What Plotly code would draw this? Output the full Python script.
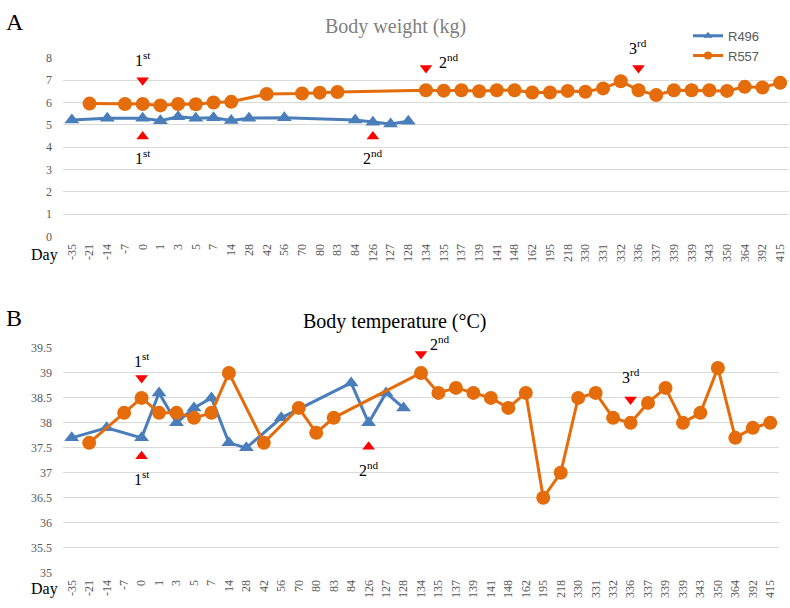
import plotly.graph_objects as go

days = ["-35", "-21", "-14", "-7", "0", "1", "3", "5", "7", "14", "28", "42", "56", "70",
        "80", "83", "84", "126", "127", "128", "134", "135", "137", "139", "141", "148",
        "162", "195", "218", "330", "331", "332", "336", "337", "339", "339", "343", "350",
        "364", "392", "415"]

r496_idx = [0, 2, 4, 5, 6, 7, 8, 9, 10, 12, 16, 17, 18, 19]
r557_idx = [1, 3, 4, 5, 6, 7, 8, 9, 11, 13, 14, 15] + list(range(20, 41))

r496_weight = [5.22, 5.3, 5.3, 5.18, 5.36, 5.3, 5.32, 5.19, 5.3, 5.32, 5.22, 5.12, 5.04, 5.16]
r557_weight = [5.95, 5.93, 5.93, 5.87, 5.93, 5.92, 6.0, 6.03, 6.38, 6.4, 6.44, 6.47,
               6.55, 6.53, 6.55, 6.5, 6.55, 6.55, 6.45, 6.45, 6.52, 6.48, 6.63, 6.95,
               6.55, 6.33, 6.55, 6.55, 6.55, 6.52, 6.7, 6.67, 6.88]

r496_temp = [37.7, 37.9, 37.7, 38.6, 38.0, 38.3, 38.5, 37.6, 37.5, 38.1, 38.8, 38.0, 38.6, 38.3]
r557_temp = [37.6, 38.2, 38.5, 38.2, 38.2, 38.1, 38.2, 39.0, 37.6, 38.3, 37.8, 38.1,
             39.0, 38.6, 38.7, 38.6, 38.5, 38.3, 38.6, 36.5, 37.0, 38.5, 38.6, 38.1,
             38.0, 38.4, 38.7, 38.0, 38.2, 39.1, 37.7, 37.9, 38.0]

# dose markers: (category index, y value)
w_down = [(4, 7.0), (20, 7.54), (32, 7.54)]
w_up = [(4, 4.48), (17, 4.48)]
w_labels = [(4, 7.95, "1<sup>st</sup>"), (4, 3.56, "1<sup>st</sup>"), (17, 3.56, "2<sup>nd</sup>"),
            (21.3, 7.85, "2<sup>nd</sup>"), (32, 8.5, "3<sup>rd</sup>")]
t_down = [(4, 38.9), (20, 39.38), (32, 38.47)]
t_up = [(4, 37.33), (17, 37.52)]
t_labels = [(4, 39.25, "1<sup>st</sup>"), (4, 36.9, "1<sup>st</sup>"), (17, 37.07, "2<sup>nd</sup>"),
            (21.1, 39.6, "2<sup>nd</sup>"), (32, 38.93, "3<sup>rd</sup>")]

BLUE = "#4A7EBB"
ORANGE = "#E46C0A"
GRID = "#D9D9D9"
TICK = "#595959"
SERIF = "Liberation Serif"

W, H = 790, 608

# panel geometry (pixels)
X1 = (63, 789)
Y1 = (52, 235)
Y1R = (0, 8)
X2 = (63, 779)
Y2 = (349, 579)
Y2R = (35, 39.5)


def to_paper(v, ypx, yr):
    top, bot = ypx
    lo, hi = yr
    px = bot - (v - lo) / (hi - lo) * (bot - top)
    return 1 - px / H


fig = go.Figure()

# weight panel
fig.add_trace(go.Scatter(x=r496_idx, y=r496_weight, mode="lines+markers", name="R496",
                         line=dict(color=BLUE, width=3), showlegend=False,
                         marker=dict(symbol="triangle-up", size=13, color=BLUE),
                         xaxis="x", yaxis="y"))
fig.add_trace(go.Scatter(x=r557_idx, y=r557_weight, mode="lines+markers", name="R557",
                         line=dict(color=ORANGE, width=3), showlegend=False,
                         marker=dict(symbol="circle", size=14, color=ORANGE),
                         xaxis="x", yaxis="y"))
# temperature panel
fig.add_trace(go.Scatter(x=r496_idx, y=r496_temp, mode="lines+markers", name="R496",
                         line=dict(color=BLUE, width=3), showlegend=False,
                         marker=dict(symbol="triangle-up", size=13, color=BLUE),
                         xaxis="x2", yaxis="y2"))
fig.add_trace(go.Scatter(x=r557_idx, y=r557_temp, mode="lines+markers", name="R557",
                         line=dict(color=ORANGE, width=3), showlegend=False,
                         marker=dict(symbol="circle", size=14, color=ORANGE),
                         xaxis="x2", yaxis="y2"))
# legend entries (smaller markers, as in the reference legend)
fig.add_trace(go.Scatter(x=[None], y=[None], mode="lines+markers", name="R496",
                         line=dict(color=BLUE, width=3),
                         marker=dict(symbol="triangle-up", size=8, color=BLUE),
                         xaxis="x", yaxis="y"))
fig.add_trace(go.Scatter(x=[None], y=[None], mode="lines+markers", name="R557",
                         line=dict(color=ORANGE, width=3),
                         marker=dict(symbol="circle", size=8, color=ORANGE),
                         xaxis="x", yaxis="y"))

for pts, sym, xa, ya in [(w_down, "triangle-down", "x", "y"), (w_up, "triangle-up", "x", "y"),
                         (t_down, "triangle-down", "x2", "y2"), (t_up, "triangle-up", "x2", "y2")]:
    fig.add_trace(go.Scatter(x=[p[0] for p in pts], y=[p[1] for p in pts], mode="markers",
                             marker=dict(symbol=sym, size=11, color="#FF0000"),
                             showlegend=False, hoverinfo="skip", cliponaxis=False,
                             xaxis=xa, yaxis=ya))

annotations = []
for x, y, t in w_labels:
    annotations.append(dict(x=x, y=to_paper(y, Y1, Y1R), xref="x", yref="paper", text=t,
                            xanchor="center", yanchor="middle",
                            showarrow=False, font=dict(family=SERIF, size=16, color="black")))
for x, y, t in t_labels:
    annotations.append(dict(x=x, y=to_paper(y, Y2, Y2R), xref="x2", yref="paper", text=t,
                            xanchor="center", yanchor="middle",
                            showarrow=False, font=dict(family=SERIF, size=16, color="black")))

annotations += [
    dict(x=15 / W, y=1 - 15 / H, xref="paper", yref="paper", text="A", showarrow=False,
         font=dict(family=SERIF, size=24, color="black"), xanchor="center", yanchor="middle"),
    dict(x=14 / W, y=1 - 318 / H, xref="paper", yref="paper", text="B", showarrow=False,
         font=dict(family=SERIF, size=24, color="black"), xanchor="center", yanchor="middle"),
    dict(x=395 / W, y=1 - 20 / H, xref="paper", yref="paper", text="Body weight (kg)",
         showarrow=False, font=dict(family=SERIF, size=20, color="#7F7F7F"),
         xanchor="center", yanchor="middle"),
    dict(x=395 / W, y=1 - 322 / H, xref="paper", yref="paper", text="Body temperature (°C)",
         showarrow=False, font=dict(family=SERIF, size=20, color="black"),
         xanchor="center", yanchor="middle"),
    dict(x=44 / W, y=1 - 254 / H, xref="paper", yref="paper", text="Day", showarrow=False,
         font=dict(family=SERIF, size=16, color="black"), xanchor="center", yanchor="middle"),
    dict(x=44 / W, y=1 - 596 / H, xref="paper", yref="paper", text="Day", showarrow=False,
         font=dict(family=SERIF, size=16, color="black"), xanchor="center", yanchor="middle"),
]

xcommon = dict(tickmode="array", tickvals=list(range(len(days))), ticktext=days,
               tickangle=-90, range=[-0.5, len(days) - 0.5], showgrid=False,
               zeroline=False, showline=False, ticks="", ticklabelstandoff=4,
               tickfont=dict(family=SERIF, size=12, color=TICK))
ycommon = dict(showgrid=True, gridcolor=GRID, gridwidth=1, zeroline=False, showline=False,
               ticks="", ticklabelstandoff=10,
               tickfont=dict(family=SERIF, size=12, color=TICK))

fig.update_layout(
    width=W, height=H, autosize=False,
    margin=dict(l=0, r=0, t=0, b=0),
    paper_bgcolor="white", plot_bgcolor="white",
    xaxis=dict(domain=[X1[0] / W, X1[1] / W], anchor="y", **xcommon),
    yaxis=dict(domain=[1 - Y1[1] / H, 1 - Y1[0] / H], anchor="x", range=list(Y1R), dtick=1,
               **ycommon),
    xaxis2=dict(domain=[X2[0] / W, X2[1] / W], anchor="y2", **xcommon),
    yaxis2=dict(domain=[1 - Y2[1] / H, 1 - Y2[0] / H], anchor="x2", range=list(Y2R), dtick=0.5,
                **ycommon),
    legend=dict(x=688 / W, y=1 - 14 / H, xanchor="left", yanchor="top",
                font=dict(family="Liberation Sans", size=13, color=TICK),
                bgcolor="rgba(0,0,0,0)", tracegroupgap=0, itemwidth=30),
    annotations=annotations,
    showlegend=True,
)

fig.write_html("out.html")
